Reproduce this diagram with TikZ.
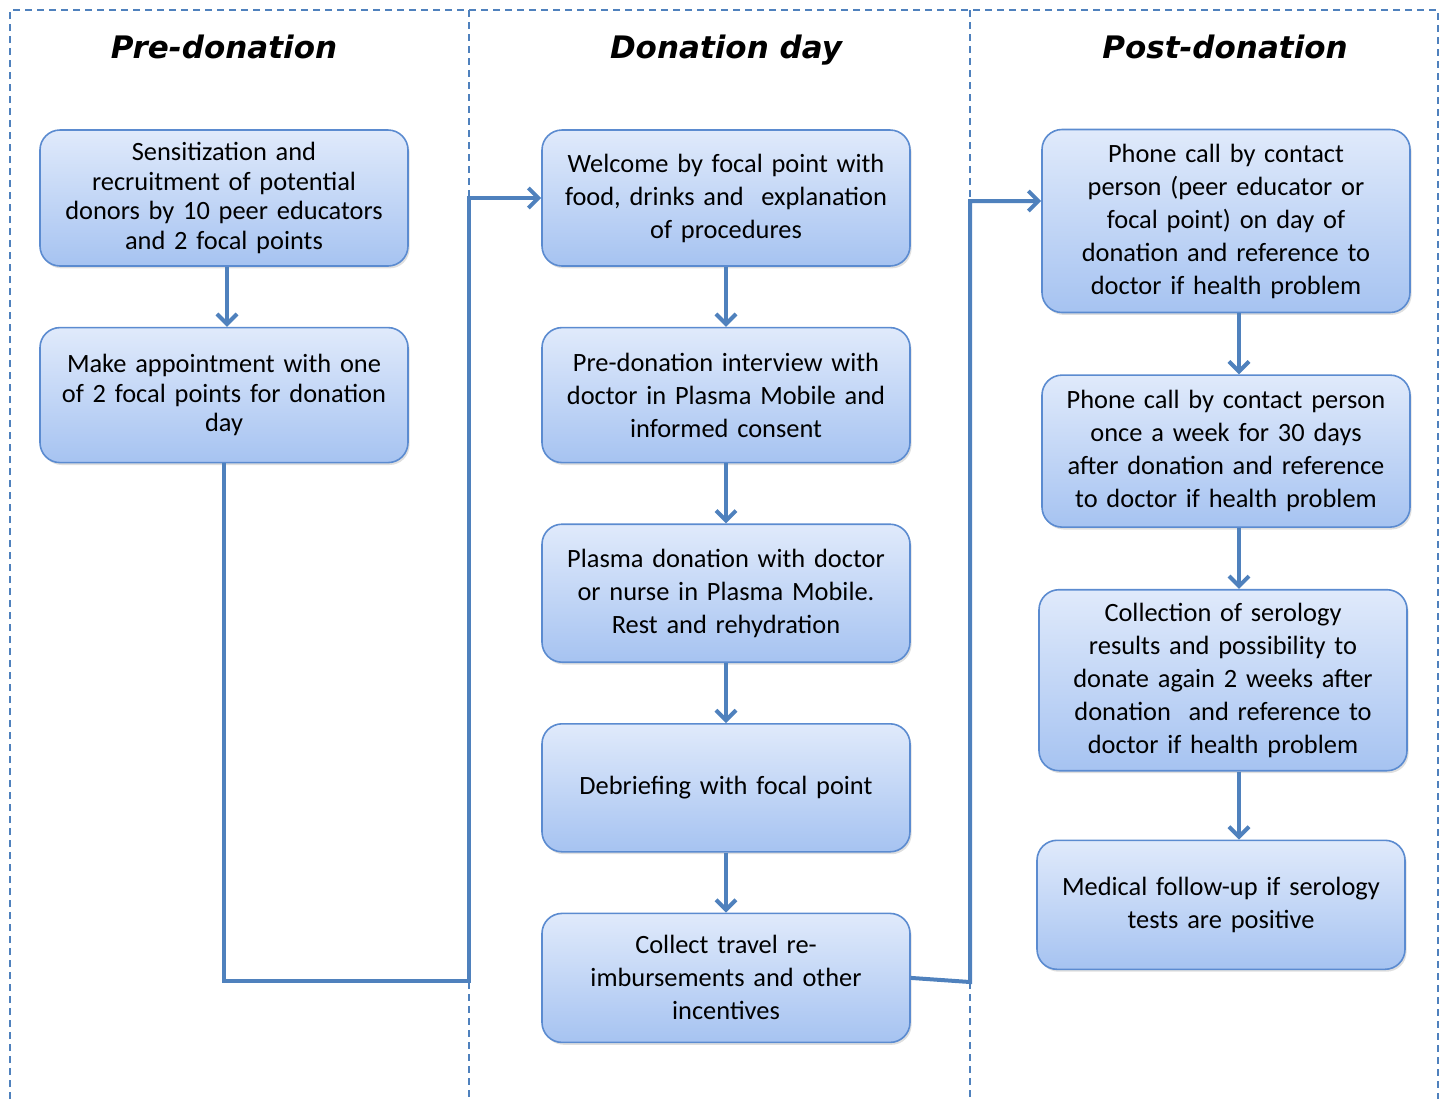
\documentclass[tikz,border=0pt]{standalone}
\usepackage{fontspec}
\setmainfont{Carlito}
\newfontfamily\headfont{DejaVu Sans}
\usepackage{xcolor}
\usepackage{tikz}
\usetikzlibrary{
    positioning,
    arrows.meta,
    shadows
}
\definecolor{lineblue}{HTML}{4F81BD}
\definecolor{boxedge}{HTML}{5B8BD0}
\definecolor{boxtop}{HTML}{E0EAFB}
\definecolor{boxbottom}{HTML}{A6C3F1}
\tikzset{heading/.style={
    font=\headfont\bfseries\itshape\fontsize{15.5}{18}\selectfont,
    inner sep=0pt,
    anchor=base,
}}
\tikzset{stage/.style={
    draw=boxedge,
    line width=0.8pt,
    top color=boxtop,
    bottom color=boxbottom,
    rounded corners=10pt,
    minimum width=184pt,
    text width=178pt,
    align=center,
    inner sep=2pt,
    font=\fontsize{13.2}{16.5}\selectfont,
    drop shadow={opacity=0.25,shadow xshift=0.8pt,shadow yshift=-1.2pt},
}}
\tikzset{prestage/.style={
    stage,
    font=\fontsize{13.2}{14.75}\selectfont,
}}
\tikzset{frame/.style={
    draw=lineblue,
    line width=0.8pt,
    dash pattern=on 3.5pt off 2.5pt,
}}
\tikzset{flow/.style={
    -{Straight Barb[length=5pt,width=10pt]},
    line width=2pt,
    color=lineblue,
}}

\begin{document}
\begin{tikzpicture}[
                x=0.5pt, y=-0.5pt,
                node distance=30pt
        ]
            \useasboundingbox (0,0) rectangle (1445,1099);
            \draw[frame] (10,1099) -- (10,10) -- (1438,10) -- (1438,1099);
            \draw[frame] (469,10) -- (469,1099);
            \draw[frame] (970,10) -- (970,1099);

            \node[heading] (prehead) at (224,58) {Pre-donation};
            \node[heading] (dayhead) at (726,58) {Donation day};
            \node[heading] (posthead) at (1225,58) {Post-donation};

            \node[prestage, minimum height=68pt] (recruit) at (224,198)
                {Sensitization and\\recruitment of potential\\donors by 10 peer educators\\and 2 focal points};
            \node[prestage, minimum height=67.5pt, below=of recruit] (appoint)
                {Make appointment with one\\of 2 focal points for donation\\day};

            \node[stage, minimum height=68pt] (welcome) at (726,198)
                {Welcome by focal point with\\food, drinks and \ explanation\\of procedures};
            \node[stage, minimum height=67.5pt, below=of welcome] (interview)
                {Pre-donation interview with\\doctor in Plasma Mobile and\\informed consent};
            \node[stage, minimum height=69pt, below=of interview] (donation)
                {Plasma donation with doctor\\or nurse in Plasma Mobile.\\Rest and rehydration};
            \node[stage, minimum height=64pt, below=of donation] (debrief)
                {Debriefing with focal point};
            \node[stage, minimum height=64.5pt, below=of debrief] (refund)
                {Collect travel re-\\imbursements and other\\incentives};

            \node[stage, minimum height=91.5pt] (firstcall) at (1226,221)
                {Phone call by contact\\person (peer educator or\\focal point) on day of\\donation and reference to\\doctor if health problem};
            \node[stage, minimum height=76pt, below=30.5pt of firstcall] (weekcall)
                {Phone call by contact person\\once a week for 30 days\\after donation and reference\\to doctor if health problem};
            \node[stage, minimum height=90.5pt, below=30.5pt of weekcall, xshift=-1.5pt] (serology)
                {Collection of serology\\results and possibility to\\donate again 2 weeks after\\donation \ and reference to\\doctor if health problem};
            \node[stage, minimum height=64.5pt, below=34pt of serology, xshift=-1pt] (followup)
                {Medical follow-up if serology\\tests are positive};

            \coordinate (gapone) at (469,981);
            \coordinate (gaptwo) at (970,982);
            \coordinate (gaptwotop) at (970,201);
            \coordinate (rail) at (1239,0);

            \draw[flow] (recruit.south -| 227,0) -- (appoint.north -| 227,0);
            \draw[flow] (appoint.south) |- (gapone) |- (welcome.west);

            \draw[flow] (welcome) -- (interview);
            \draw[flow] (interview) -- (donation);
            \draw[flow] (donation) -- (debrief);
            \draw[flow] (debrief) -- (refund);
            \draw[flow] (refund.east) -- (gaptwo) -- (gaptwotop) -- (gaptwotop -| firstcall.west);

            \draw[flow] (firstcall.south -| rail) -- (weekcall.north -| rail);
            \draw[flow] (weekcall.south -| rail) -- (serology.north -| rail);
            \draw[flow] (serology.south -| rail) -- (followup.north -| rail);

        \end{tikzpicture}
\end{document}
